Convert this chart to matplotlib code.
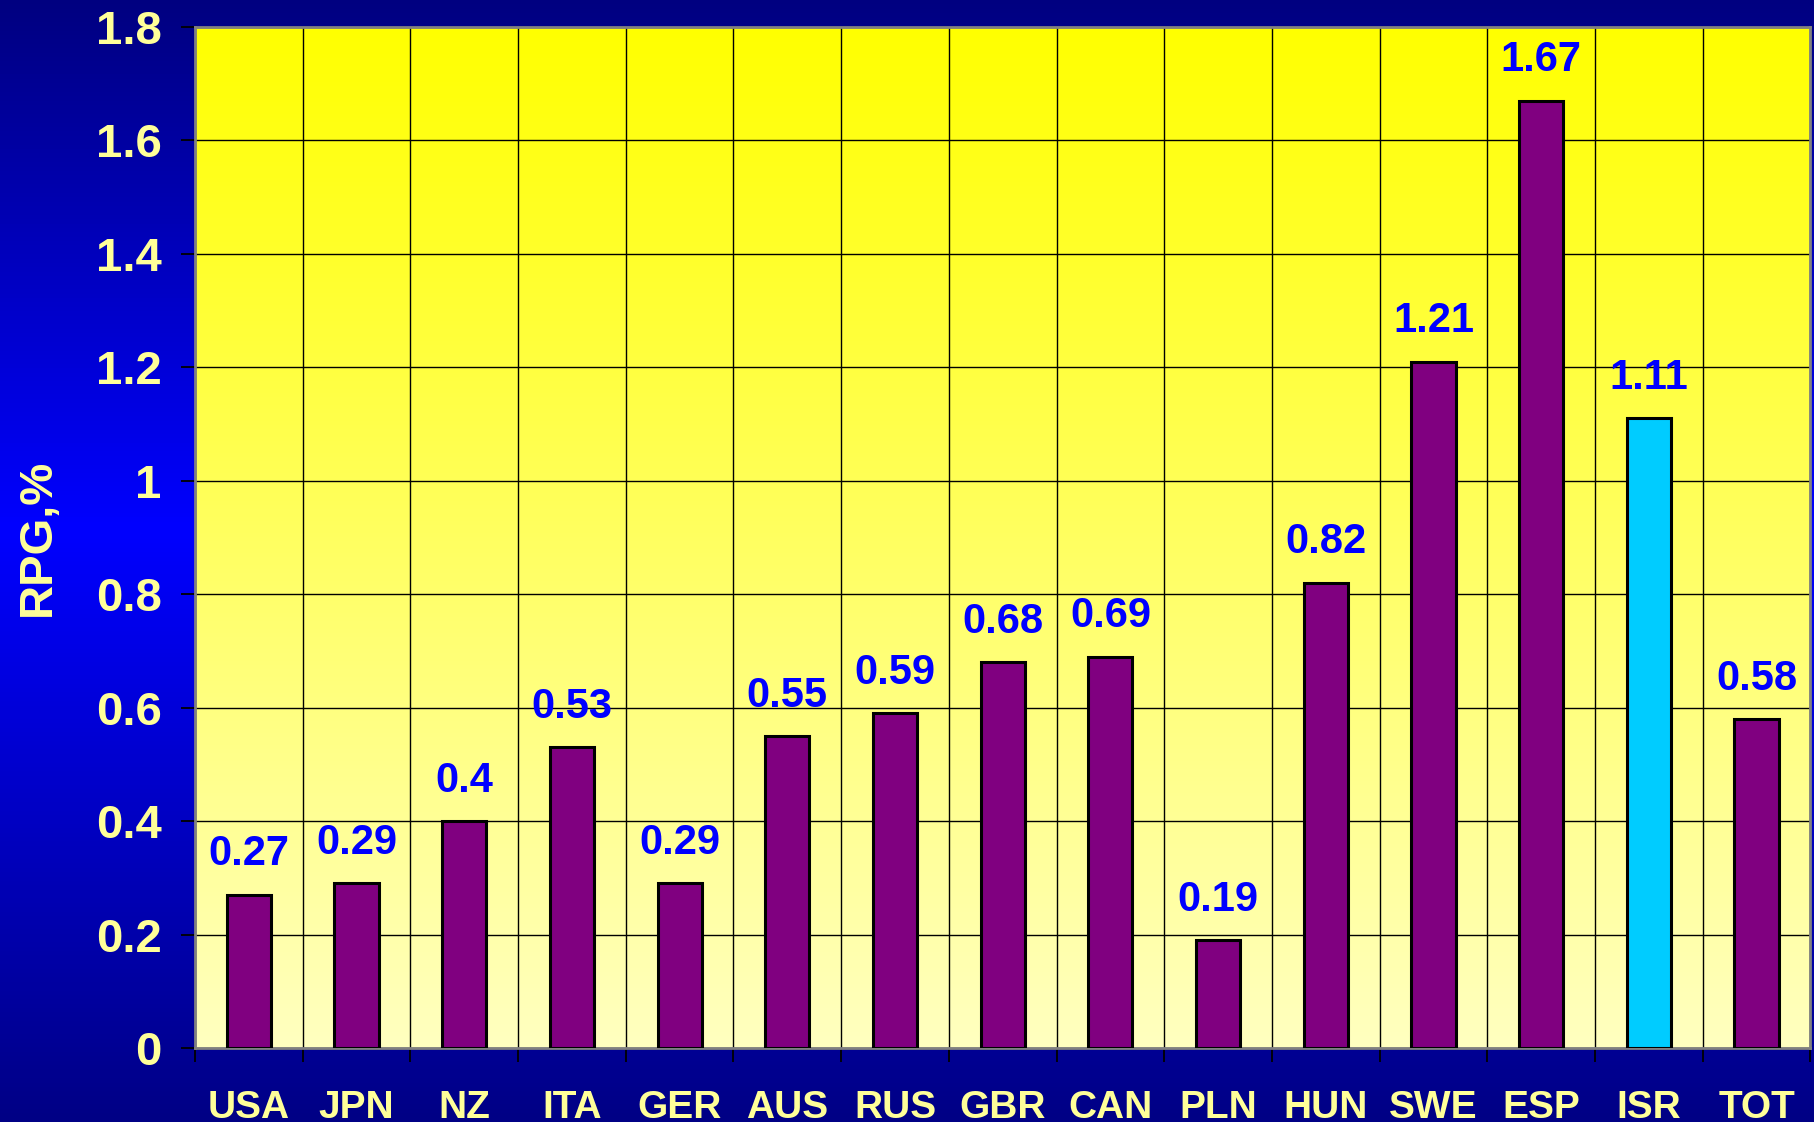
import numpy as np
import matplotlib.pyplot as plt
from matplotlib.colors import LinearSegmentedColormap

plt.rcParams['font.family'] = ['Liberation Sans', 'DejaVu Sans']
plt.rcParams['font.weight'] = 'bold'

# Data ........................................................................

countries = ["USA", "JPN", "NZ", "ITA", "GER", "AUS", "RUS", "GBR",
             "CAN", "PLN", "HUN", "SWE", "ESP", "ISR", "TOT"]
rpg = [0.27, 0.29, 0.4, 0.53, 0.29, 0.55, 0.59, 0.68,
       0.69, 0.19, 0.82, 1.21, 1.67, 1.11, 0.58]
highlight = "ISR"

# Colours
purple = "#800080"
cyan = "#00CCFF"
pale_yellow = "#FFFF99"
label_blue = "#0000FF"

# Figure ......................................................................

fig = plt.figure(figsize=(18.14, 11.22), dpi=100)

# Blue background gradient (navy - bright blue - navy, top to bottom)
bg = fig.add_axes([0, 0, 1, 1], zorder=-10)
bg_cmap = LinearSegmentedColormap.from_list(
    "bg", [(0.0, "#000080"), (0.47, "#0000FF"), (1.0, "#000085")])
bg.imshow(np.linspace(0, 1, 256).reshape(-1, 1), aspect="auto", cmap=bg_cmap,
          extent=[0, 1, 0, 1], origin="upper")
bg.set_axis_off()

ax = fig.add_axes([0.1075, 0.066, 0.8905, 0.910])
ax.set_facecolor("none")

n = len(countries)
x = np.arange(n)

# Yellow gradient of the plot area
plot_cmap = LinearSegmentedColormap.from_list("pa", ["#FFFFC0", "#FFFF00"])
ax.imshow(np.linspace(0, 1, 256).reshape(-1, 1), aspect="auto", cmap=plot_cmap,
          extent=[-0.5, n - 0.5, 0, 1.8], origin="lower", zorder=0)

colors = [cyan if c == highlight else purple for c in countries]
ax.bar(x, rpg, width=0.41, color=colors, edgecolor="black", linewidth=2.2, zorder=3)

for xi, v in zip(x, rpg):
    ax.text(xi, v + 0.036, f"{v:g}", ha="center", va="bottom",
            color=label_blue, fontsize=30, fontweight="bold", zorder=4)

ax.set_xlim(-0.5, n - 0.5)
ax.set_ylim(0, 1.8)

# X: ticks at category boundaries, labels at centres
ax.set_xticks(np.arange(n + 1) - 0.5)
ax.set_xticklabels([])
ax.set_xticks(x, minor=True)
ax.set_xticklabels(countries, minor=True)
ax.tick_params(axis="x", which="major", length=10, width=1.3, color="black")
ax.tick_params(axis="x", which="minor", length=0, pad=30, labelsize=28,
               labelcolor=pale_yellow)

ax.set_yticks(np.arange(0, 1.81, 0.2))
ax.set_yticklabels(["0", "0.2", "0.4", "0.6", "0.8", "1", "1.2", "1.4", "1.6", "1.8"])
ax.tick_params(axis="y", length=10, width=1.3, color="black", pad=14,
               labelsize=34, labelcolor=pale_yellow)

ax.grid(True, which="major", color="black", linewidth=1.0, zorder=1)
ax.set_axisbelow(True)

ax.set_ylabel("RPG,%", color=pale_yellow, fontsize=34, fontweight="bold",
              va="center")
ax.yaxis.set_label_coords(-0.097, 0.5)

for s in ax.spines.values():
    s.set_color("#808080")
    s.set_linewidth(2)

plt.savefig("out.png", dpi=100)
